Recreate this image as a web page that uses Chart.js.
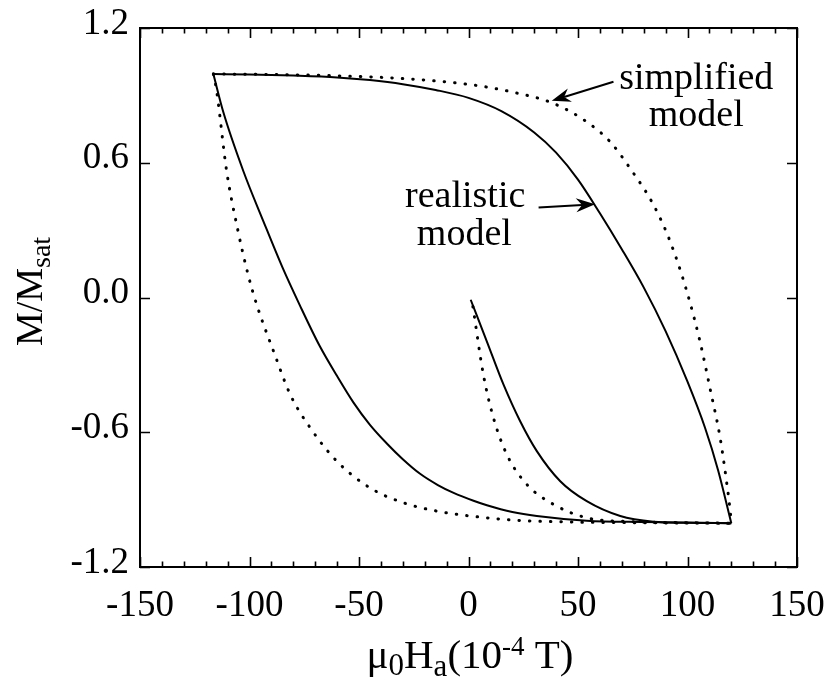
<!DOCTYPE html>
<html>
<head>
<meta charset="utf-8">
<script src="https://cdn.jsdelivr.net/npm/chart.js@4.4.1/dist/chart.umd.min.js"></script>
<style>
html,body{margin:0;padding:0;background:#fff;}
canvas{display:block;}
</style>
</head>
<body>
<canvas id="c" width="826" height="680"></canvas>
<script>
// ---------------- data ----------------
const xTickValues = [-150, -100, -50, 0, 50, 100, 150];
const yTickValues = [-1.2, -0.6, 0.0, 0.6, 1.2];

// realistic model (solid)
const realInitX  = [1, 8.4, 16, 23.6, 31.2, 41.9, 54, 69.3, 84.5, 100, 120];
const realInitY  = [-0.01, -0.196, -0.388, -0.551, -0.684, -0.818, -0.907, -0.973, -0.998, -1.003, -1.005];
const realUpperX = [-116.5, -100, -80, -60, -45, -30, -15, 0, 15, 30, 40, 50, 60, 70, 80, 90, 100, 108, 114, 120];
const realUpperY = [0.995, 0.993, 0.988, 0.98, 0.968, 0.95, 0.924, 0.889, 0.83, 0.735, 0.645, 0.525, 0.375, 0.215, 0.045, -0.15, -0.375, -0.58, -0.77, -1.005];
const realLowerX = [-116.5, -112, -102.7, -93.6, -85, -77, -68, -60, -52.5, -45, -37.3, -30, -22.1, -14, -6.8, 2.3, 8.4, 20, 31.2, 54, 80, 120];
const realLowerY = [0.995, 0.827, 0.56, 0.338, 0.135, -0.035, -0.215, -0.35, -0.468, -0.567, -0.65, -0.72, -0.785, -0.835, -0.87, -0.905, -0.925, -0.955, -0.973, -0.994, -1.0, -1.005];

// simplified model (dotted)
const simpInitX  = [2, 6.8, 11.4, 17.5, 26.6, 38.8, 54, 75, 100, 120];
const simpInitY  = [-0.04, -0.344, -0.536, -0.699, -0.832, -0.921, -0.981, -0.998, -1.003, -1.005];
const simpUpperX = [-116.5, -90, -60, -30, 0.8, 20, 38.8, 54, 64.7, 73.8, 84.5, 92.1, 99.7, 105.8, 110.4, 114.9, 118, 119.5, 120];
const simpUpperY = [0.995, 0.993, 0.987, 0.975, 0.948, 0.915, 0.864, 0.782, 0.693, 0.575, 0.412, 0.249, 0.027, -0.2, -0.41, -0.625, -0.832, -0.951, -1.005];
const simpLowerX = [-116.5, -115.2, -110.4, -105.5, -100.6, -96.7, -89, -81.4, -72.3, -60.1, -44.9, -29.7, -14.5, 0.8, 23.6, 50, 80, 120];
const simpLowerY = [0.995, 0.932, 0.56, 0.308, 0.10, -0.032, -0.24, -0.432, -0.58, -0.729, -0.848, -0.914, -0.951, -0.973, -0.993, -1.0, -1.003, -1.005];

// ---------------- helpers ----------------
const pts = (xs, ys) => xs.map((x, i) => ({x: x, y: ys[i]}));
const FONT = '"Liberation Serif", "Times New Roman", Times, serif';

const solidStyle = {borderColor: '#000', borderWidth: 2, pointRadius: 0, fill: false,
  cubicInterpolationMode: 'monotone', borderJoinStyle: 'round'};
const dotStyle = {borderColor: '#000', borderWidth: 3, pointRadius: 0, fill: false,
  cubicInterpolationMode: 'monotone', borderDash: [0.5, 10], borderCapStyle: 'round'};

// annotation layout (in data units)
const notes = [
  {text: 'simplified', x: 104,  y: 0.927},
  {text: 'model',      x: 104,  y: 0.763},
  {text: 'realistic',  x: -1.5, y: 0.403},
  {text: 'model',      x: -1.9, y: 0.232}
];
const arrows = [
  {x1: 66.2, y1: 0.961, x2: 38.0, y2: 0.876},
  {x1: 32.0, y1: 0.401, x2: 57.8, y2: 0.415}
];

function drawRuns(ctx, runs, cx, baseY) {
  let total = 0;
  runs.forEach(r => { ctx.font = r.size + 'px ' + FONT; r.w = ctx.measureText(r.t).width; total += r.w; });
  let x = cx - total / 2;
  runs.forEach(r => {
    ctx.font = r.size + 'px ' + FONT;
    ctx.fillText(r.t, x, baseY + r.dy);
    x += r.w;
  });
}

function drawArrow(ctx, x1, y1, x2, y2) {
  const dx = x2 - x1, dy = y2 - y1, len = Math.hypot(dx, dy);
  const ux = dx / len, uy = dy / len, nx = -uy, ny = ux;
  const L = 19, W = 7, N = 13;
  ctx.beginPath();
  ctx.moveTo(x1, y1);
  ctx.lineTo(x2 - ux * N, y2 - uy * N);
  ctx.lineWidth = 2;
  ctx.stroke();
  ctx.beginPath();
  ctx.moveTo(x2, y2);
  ctx.lineTo(x2 - ux * L + nx * W, y2 - uy * L + ny * W);
  ctx.lineTo(x2 - ux * N, y2 - uy * N);
  ctx.lineTo(x2 - ux * L - nx * W, y2 - uy * L - ny * W);
  ctx.closePath();
  ctx.fill();
}

const framePlugin = {
  id: 'frame',
  afterDatasetsDraw(chart) {
    const ctx = chart.ctx, a = chart.chartArea, xs = chart.scales.x, ys = chart.scales.y;
    ctx.save();
    ctx.strokeStyle = '#000';
    ctx.fillStyle = '#000';
    // frame
    ctx.lineWidth = 2;
    ctx.strokeRect(a.left, a.top, a.right - a.left, a.bottom - a.top);
    // ticks (inward, on all four sides)
    ctx.lineWidth = 1.6;
    ctx.beginPath();
    for (let v = xs.min; v <= xs.max + 1e-9; v += 10) {
      const px = Math.round(xs.getPixelForValue(v)) + 0.5;
      const l = xTickValues.includes(v) ? 10 : 5.5;
      ctx.moveTo(px, a.bottom); ctx.lineTo(px, a.bottom - l);
      ctx.moveTo(px, a.top);    ctx.lineTo(px, a.top + l);
    }
    yTickValues.forEach(v => {
      const py = Math.round(ys.getPixelForValue(v)) + 0.5;
      ctx.moveTo(a.left, py);  ctx.lineTo(a.left + 10, py);
      ctx.moveTo(a.right, py); ctx.lineTo(a.right - 10, py);
    });
    ctx.stroke();

    // annotations
    ctx.textBaseline = 'alphabetic';
    ctx.textAlign = 'center';
    ctx.font = '38px ' + FONT;
    notes.forEach(n => ctx.fillText(n.text, xs.getPixelForValue(n.x), ys.getPixelForValue(n.y)));
    arrows.forEach(r => drawArrow(ctx,
      xs.getPixelForValue(r.x1), ys.getPixelForValue(r.y1),
      xs.getPixelForValue(r.x2), ys.getPixelForValue(r.y2)));

    // axis titles
    ctx.textAlign = 'left';
    drawRuns(ctx, [
      {t: '\u03bc', size: 41, dy: 0},
      {t: '0', size: 31, dy: 7},
      {t: 'H', size: 41, dy: 0},
      {t: 'a', size: 31, dy: 8},
      {t: '(10', size: 41, dy: 0},
      {t: '-4', size: 27, dy: -13},
      {t: ' T)', size: 41, dy: 0}
    ], 470, 668);

    ctx.save();
    ctx.translate(42, (a.top + a.bottom) / 2 - 6);
    ctx.rotate(-Math.PI / 2);
    drawRuns(ctx, [
      {t: 'M/M', size: 38, dy: 0},
      {t: 'sat', size: 28, dy: 8}
    ], 0, 0);
    ctx.restore();
    ctx.restore();
  }
};

new Chart(document.getElementById('c'), {
  type: 'scatter',
  data: {
    datasets: [
      Object.assign({label: 'realistic initial', data: pts(realInitX, realInitY), showLine: true}, solidStyle),
      Object.assign({label: 'realistic upper', data: pts(realUpperX, realUpperY), showLine: true}, solidStyle),
      Object.assign({label: 'realistic lower', data: pts(realLowerX, realLowerY), showLine: true}, solidStyle),
      Object.assign({label: 'simplified initial', data: pts(simpInitX, simpInitY), showLine: true}, dotStyle),
      Object.assign({label: 'simplified upper', data: pts(simpUpperX, simpUpperY), showLine: true}, dotStyle),
      Object.assign({label: 'simplified lower', data: pts(simpLowerX, simpLowerY), showLine: true}, dotStyle)
    ]
  },
  options: {
    responsive: false,
    devicePixelRatio: 1,
    animation: false,
    events: [],
    layout: {padding: {top: 28, right: 29, left: 0, bottom: 0}},
    plugins: {legend: {display: false}, tooltip: {enabled: false}, title: {display: false}},
    scales: {
      x: {
        type: 'linear', position: 'bottom', min: -150, max: 150,
        afterBuildTicks: s => { s.ticks = xTickValues.map(v => ({value: v})); },
        ticks: {font: {family: FONT, size: 37}, color: '#000', padding: 17, maxRotation: 0,
          callback: v => String(v)},
        grid: {display: false, drawTicks: false},
        border: {display: false},
        afterFit: s => { s.height = 113; s.paddingLeft = 0; s.paddingRight = 0; }
      },
      y: {
        type: 'linear', position: 'left', min: -1.2, max: 1.2,
        afterBuildTicks: s => { s.ticks = yTickValues.map(v => ({value: v})); },
        ticks: {font: {family: FONT, size: 37}, color: '#000', padding: 11, labelOffset: -4,
          callback: v => (Math.abs(v) < 1e-9 ? '0.0' : Number(v).toFixed(1))},
        grid: {display: false, drawTicks: false},
        border: {display: false},
        afterFit: s => { s.width = 140; s.paddingTop = 0; s.paddingBottom = 0; }
      }
    }
  },
  plugins: [framePlugin]
});
</script>
</body>
</html>
